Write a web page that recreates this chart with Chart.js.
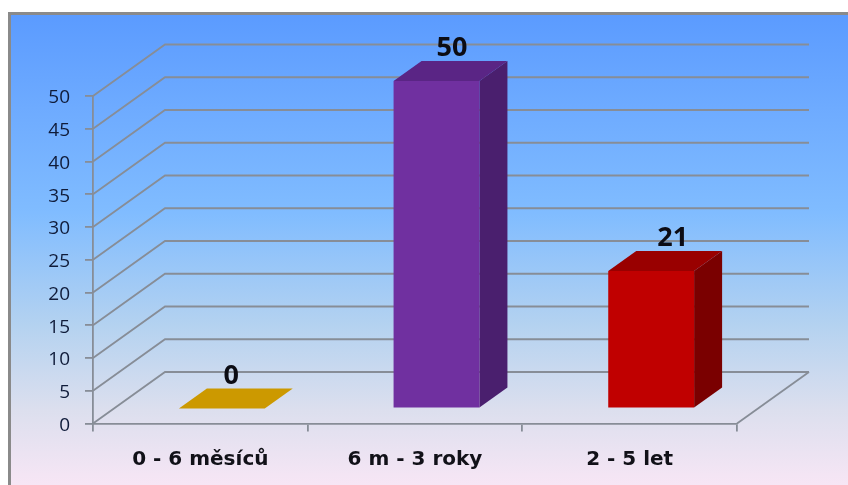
<!DOCTYPE html>
<html>
<head>
<meta charset="utf-8">
<style>
  html, body { margin: 0; padding: 0; background: #fff; overflow: hidden; }
  #panel {
    position: absolute; left: 8px; top: 12px; width: 840px; height: 473px;
    box-sizing: border-box; border-left: 3px solid #8a8a8a; border-top: 3px solid #8a8a8a;
    background: linear-gradient(to bottom, #5b9bff 0%, #6eabff 20%, #80bcff 42%, #b4d2f0 66%, #dcdfee 84%, #f7e6f5 100%);
  }
  canvas { position: absolute; left: 0; top: 0; }
</style>
</head>
<body>
<div id="panel"></div>
<canvas id="chart" width="848" height="485"></canvas>
<script src="https://cdn.jsdelivr.net/npm/chart.js@4/dist/chart.umd.js"></script>
<script>
const categories = ['0 - 6 měsíců', '6 m - 3 roky', '2 - 5 let'];
const values = [0, 50, 21];
const frontColors = ['#cc9900', '#7030a0', '#c00000'];
const topColors = ['#cc9900', '#5a2585', '#990000'];
const sideColors = ['#a67c00', '#4a1f6e', '#7a0000'];

// Depth of the 3D box: wall offset from the front plane, bar inset and bar thickness.
const WALL_DX = 72, WALL_DY = -51.5;
const INSET_DX = 21.5, INSET_DY = -15;
const BAR_DX = 28, BAR_DY = -20;
const LINE_COLOR = '#878d97';
const LINE_WIDTH = 1.8;
// Value labels fan out slightly from the plot's left side.
const LABEL_SPREAD = 1.028, LABEL_SHIFT = 25.4;

function poly(ctx, pts, fill) {
  ctx.beginPath();
  pts.forEach((p, i) => i ? ctx.lineTo(p[0], p[1]) : ctx.moveTo(p[0], p[1]));
  ctx.closePath();
  ctx.fillStyle = fill;
  ctx.fill();
}

const box3d = {
  id: 'box3d',
  beforeDatasetsDraw(chart) {
    const { ctx, chartArea: a, scales: { y } } = chart;
    ctx.save();
    ctx.strokeStyle = LINE_COLOR;
    ctx.lineWidth = LINE_WIDTH;
    // Back wall rules and their slanted returns to the value axis.
    y.ticks.forEach(t => {
      const py = y.getPixelForValue(t.value);
      ctx.beginPath();
      ctx.moveTo(a.left, py);
      ctx.lineTo(a.left + WALL_DX, py + WALL_DY);
      ctx.lineTo(a.right + WALL_DX, py + WALL_DY);
      ctx.stroke();
    });
    // Right edge of the floor.
    ctx.beginPath();
    ctx.moveTo(a.right, a.bottom);
    ctx.lineTo(a.right + WALL_DX, a.bottom + WALL_DY);
    ctx.stroke();
    ctx.restore();

    // Top and side faces behind each bar's front face.
    ctx.save();
    ctx.translate(INSET_DX, INSET_DY);
    chart.getDatasetMeta(0).data.forEach((bar, i) => {
      const l = bar.x - bar.width / 2, r = bar.x + bar.width / 2;
      const t = bar.y, b = bar.base;
      poly(ctx, [[r, t], [r + BAR_DX, t + BAR_DY], [r + BAR_DX, b + BAR_DY], [r, b]], sideColors[i]);
      poly(ctx, [[l, t], [l + BAR_DX, t + BAR_DY], [r + BAR_DX, t + BAR_DY], [r, t]], topColors[i]);
    });
    ctx.restore();

    // The front faces are drawn by the bar controller inside this translation.
    ctx.save();
    ctx.translate(INSET_DX, INSET_DY);
  },
  afterDatasetsDraw(chart) {
    const { ctx } = chart;
    ctx.restore();
    ctx.save();
    ctx.font = 'bold 27px "Open Sans"';
    ctx.fillStyle = '#0c0c14';
    ctx.textAlign = 'center';
    ctx.textBaseline = 'middle';
    chart.getDatasetMeta(0).data.forEach((bar, i) => {
      ctx.fillText(String(values[i]), bar.x * LABEL_SPREAD + LABEL_SHIFT, bar.y + INSET_DY + BAR_DY - 12.5);
    });
    ctx.restore();
  }
};

new Chart(document.getElementById('chart'), {
  type: 'bar',
  data: {
    labels: categories,
    datasets: [{
      data: values,
      backgroundColor: frontColors,
      categoryPercentage: 1,
      barPercentage: 0.4,
      borderWidth: 0,
      clip: false
    }]
  },
  plugins: [box3d],
  options: {
    responsive: false,
    animation: false,
    layout: { padding: { top: 96, right: 111 } },
    plugins: { legend: { display: false }, tooltip: { enabled: false } },
    scales: {
      x: {
        afterFit(s) { s.height = 61.5; },
        border: { display: true, color: LINE_COLOR, width: LINE_WIDTH },
        grid: { drawOnChartArea: false, color: LINE_COLOR, lineWidth: LINE_WIDTH, tickLength: 8 },
        ticks: { color: '#111118', font: { family: '"DejaVu Sans"', size: 20, weight: 'bold' }, padding: 16, maxRotation: 0 }
      },
      y: {
        min: 0,
        max: 50,
        afterFit(s) { s.width = 93; },
        border: { display: true, color: LINE_COLOR, width: LINE_WIDTH },
        grid: { drawOnChartArea: false, color: LINE_COLOR, lineWidth: LINE_WIDTH, tickLength: 8 },
        ticks: { stepSize: 5, color: '#101c3a', font: { family: '"Open Sans"', size: 19 }, padding: 15, labelOffset: 2 }
      }
    }
  }
});
</script>
</body>
</html>
